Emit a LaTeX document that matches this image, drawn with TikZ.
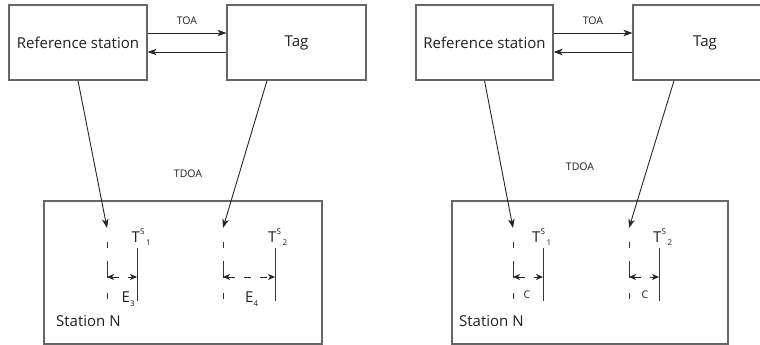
\documentclass[tikz,border=0pt]{standalone}
\usepackage{fontspec}
\setmainfont{Open Sans}
\usepackage{xcolor}
\usetikzlibrary{arrows.meta}
\definecolor{ink}{gray}{0.12}
\tikzset{
box/.style = {rectangle, draw=black!60, line width=1.2pt, minimum width=#1,
              minimum height=75pt, inner sep=0pt, text=ink,
              font=\fontsize{15}{15}\selectfont},
box/.default = 138pt, % width of the box
lbl/.style = {inner sep=0pt, text=ink, font=\fontsize{10.5}{10.5}\selectfont},
big/.style = {inner sep=0pt, text=ink, font=\fontsize{15}{15}\selectfont},
sig/.style = {draw=black!85, line width=0.9pt,
              -{Stealth[length=9pt, width=6.5pt, inset=2.5pt]}},
mark line/.style = {draw=black!80, line width=1pt},
dash line/.style = {draw=black!80, line width=1pt,
                    dash pattern=on 6pt off 13pt on 17pt off 15pt on 6pt},
span/.style = {draw=black!85, line width=0.9pt, dash pattern=on 7pt off 9pt,
               {Stealth[length=7pt, width=6pt, inset=2pt]}-{Stealth[length=7pt, width=6pt, inset=2pt]}}
}
\newcommand{\tsig}[1]{T\rlap{\raisebox{8pt}{\fontsize{8}{8}\selectfont S}}\hspace{6pt}\raisebox{-3pt}{\fontsize{8}{8}\selectfont #1}}
\newcommand{\lowsub}[1]{\raisebox{-4pt}{\fontsize{8}{8}\selectfont #1}}

\begin{document}
\begin{tikzpicture}[x=1pt, y=-1pt]
\clip (0,0) rectangle (760,345);

% left panel
\node[box=138pt] (refL) at (78,42.5) {Reference station};
\node[box=139pt] (tagL) at (296.5,42.5) {Tag};
\node[box=278pt, minimum height=143pt] (stnL) at (183,272.5) {};
\node[big, anchor=base west] (stnLtxt) at (56,326) {Station N};
\node[lbl] (tdoaL) at (188,174) {TDOA};
\coordinate (hitL1) at (107,228);
\coordinate (hitL2) at (223,228);
\coordinate (aL1) at (107,277);
\coordinate (bL1) at (137,277);
\coordinate (aL2) at (223,277);
\coordinate (bL2) at (275,277);
\draw[sig] ([yshift=9.5pt]refL.east) -- node[lbl, above=8pt] (toaL) {TOA} ([yshift=9.5pt]tagL.west);
\draw[sig] ([yshift=-9.5pt]tagL.west) -- ([yshift=-9.5pt]refL.east);
\draw[sig] (refL.south) -- (hitL1);
\draw[sig] ([xshift=-29.5pt]tagL.south) -- (hitL2);
\draw[dash line] (aL1) ++(0,-35) -- ++(0,59);
\draw[dash line] (aL2) ++(0,-35) -- ++(0,59);
\draw[mark line] (bL1) ++(0,-29) -- ++(0,53);
\draw[mark line] (bL2) ++(0,-29) -- ++(0,53);
\draw[span] (aL1) -- (bL1);
\draw[span] (aL2) -- (bL2);
\node[big, anchor=base west] (tL1) at (131.5,242) {\tsig{1}};
\node[big, anchor=base west] (tL2) at (268,242) {\tsig{2}};
\node[big, anchor=base west] (eL1) at (121.5,302) {E\lowsub{3}};
\node[big, anchor=base west] (eL2) at (245,302) {E\lowsub{4}};

% right panel
\node[box=137pt] (refR) at (484.5,42.5) {Reference station};
\node[box=144pt] (tagR) at (705,42.5) {Tag};
\node[box=276pt, minimum height=143pt] (stnR) at (590,272.5) {};
\node[big, anchor=base west] (stnRtxt) at (459,326) {Station N};
\node[lbl] (tdoaR) at (580,167) {TDOA};
\coordinate (hitR1) at (513,228);
\coordinate (hitR2) at (629,228);
\coordinate (aR1) at (513,277);
\coordinate (bR1) at (543,277);
\coordinate (aR2) at (629,277);
\coordinate (bR2) at (659,277);
\draw[sig] ([yshift=9.5pt]refR.east) -- node[lbl, above=8pt] (toaR) {TOA} ([yshift=9.5pt]tagR.west);
\draw[sig] ([yshift=-9.5pt]tagR.west) -- ([yshift=-9.5pt]refR.east);
\draw[sig] (refR.south) -- (hitR1);
\draw[sig] ([xshift=-31pt]tagR.south) -- (hitR2);
\draw[dash line] (aR1) ++(0,-35) -- ++(0,59);
\draw[dash line] (aR2) ++(0,-35) -- ++(0,59);
\draw[mark line] (bR1) ++(0,-29) -- ++(0,53);
\draw[mark line] (bR2) ++(0,-29) -- ++(0,53);
\draw[span] (aR1) -- (bR1);
\draw[span] (aR2) -- (bR2);
\node[big, anchor=base west] (tR1) at (532,242) {\tsig{1}};
\node[big, anchor=base west] (tR2) at (653,242) {\tsig{2}};
\node[lbl] (cR1) at (527,295) {C};
\node[lbl] (cR2) at (645,295) {C};
\end{tikzpicture}
\end{document}
